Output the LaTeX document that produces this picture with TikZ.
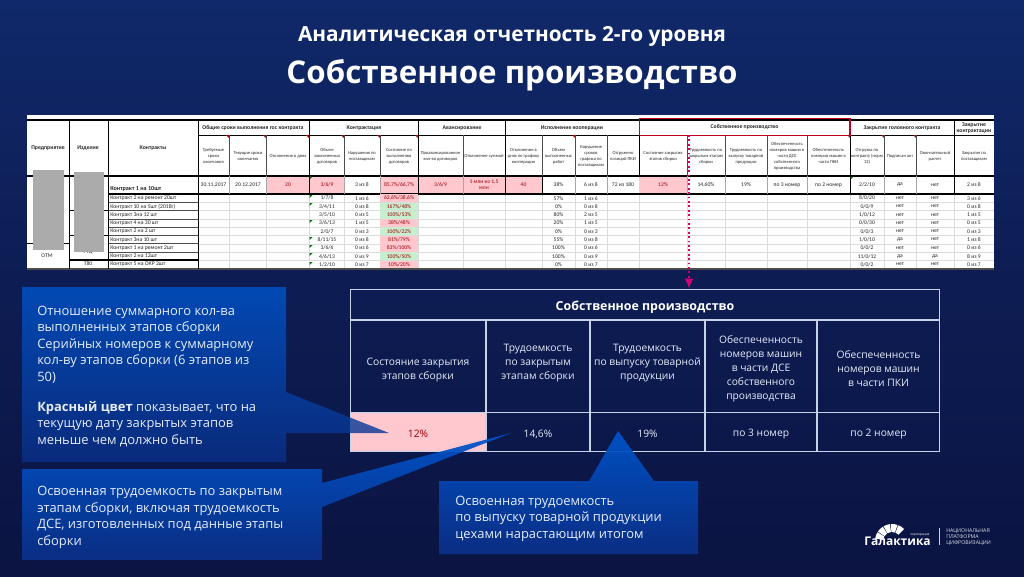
\documentclass[tikz,border=0pt]{standalone}
\usepackage{fontspec}
\setmainfont{Open Sans}
\newfontfamily\sheetfont{Carlito}
\usetikzlibrary{arrows.meta}
\usetikzlibrary{positioning}

\definecolor{bgtop}{HTML}{10296A}
\definecolor{bgmid}{HTML}{0D1C52}
\definecolor{bgbot}{HTML}{0B1442}
\definecolor{boxtop}{HTML}{0054CC}
\definecolor{boxbot}{HTML}{0A3088}
\definecolor{pinkc}{HTML}{FFC7CE}
\definecolor{greenc}{HTML}{C6EFCE}
\definecolor{redtxt}{HTML}{9C0006}
\definecolor{redbox}{HTML}{C00020}
\definecolor{dotc}{HTML}{D8006C}
\definecolor{tblc}{HTML}{C8D2E6}
\definecolor{txtc}{HTML}{E6ECF8}

\tikzset{
  sheethead/.style={font=\sheetfont\fontsize{3.4}{4.5}\selectfont, align=center, text=black!85, inner sep=0pt},
  sheetgroup/.style={font=\sheetfont\bfseries\fontsize{4.3}{4.8}\selectfont, align=center, text=black!85, inner sep=0pt},
  sheetcell/.style={font=\sheetfont\fontsize{4.2}{4.6}\selectfont, align=center, text=black!85, inner sep=0pt},
  sheetlabel/.style={font=\sheetfont\fontsize{4.3}{4.6}\selectfont, anchor=west, text=black!85, inner sep=0pt},
  callout/.style={top color=boxtop, bottom color=boxbot, opacity=.93},
  callouttext/.style={font=\fontsize{9.7}{12.4}\selectfont, text=txtc, anchor=north west, align=left, inner sep=0pt},
  tblline/.style={draw=tblc, line width=.9pt},
  tbltext/.style={font=\fontsize{7.7}{10.5}\selectfont, text=txtc, align=center, inner sep=0pt},
  dotline/.style={draw=dotc, line width=1.3pt, dotted, -{Latex[length=7.5pt,width=6.5pt]}}
}

\begin{document}
\begin{tikzpicture}[x=0.75pt,y=-0.75pt]
\useasboundingbox (0,0) rectangle (1024,576);
\shade[top color=bgtop, bottom color=bgmid] (0,0) rectangle (1024,300);
\shade[top color=bgmid, bottom color=bgbot] (0,300) rectangle (1024,576);

% titles
\node[font=\bfseries\fontsize{15.6}{17}\selectfont, text=white, inner sep=0pt] (title1) at (512,36) {Аналитическая отчетность 2-го уровня};
\node[font=\bfseries\fontsize{23.5}{26}\selectfont, text=white, inner sep=0pt] (title2) at (512,75) {Собственное производство};

% spreadsheet
\fill[white] (27,115) rectangle (994,269);
\fill[black!45] (27,269) rectangle (994,270);

\fill[pinkc] (266.5,176.5) rectangle (309,193.5);
\fill[pinkc] (309,176.5) rectangle (344,193.5);
\fill[pinkc] (380,176.5) rectangle (418,193.5);
\fill[pinkc] (418,176.5) rectangle (463,193.5);
\fill[pinkc] (463,176.5) rectangle (505,193.5);
\fill[pinkc] (505,176.5) rectangle (542,193.5);
\fill[pinkc] (639,176.5) rectangle (687,193.5);

% light grid of the lower rows
\foreach \xx in {229,266,309,344,380,418,463,505,542,575,607,639,687,725,767,807,850,884,916,954}
  \draw[black!14, line width=.5pt] (\xx,194) -- (\xx,269);
\foreach \r in {1,...,8}
  \draw[black!14, line width=.4pt] (198,194+8.3*\r) -- (994,194+8.3*\r);
\foreach \r in {1,...,8}
  \draw[black!70, line width=.5pt] (108,194+8.3*\r) -- (198,194+8.3*\r);

% heavy rules
\draw[black, line width=.9pt] (27,120) -- (994,120);
\draw[black, line width=.6pt] (198,135) -- (994,135);
\draw[black, line width=.9pt] (27,176) -- (994,176);
\draw[black, line width=.9pt] (108,194) -- (994,194);
\draw[black, line width=.5pt] (27,243) -- (69,243);
\draw[black, line width=.4pt] (69,210) -- (108,210);
\draw[black, line width=.4pt] (69,235) -- (108,235);
\draw[black, line width=.8pt] (69,260) -- (198,260);
\draw[black!70, line width=.8pt] (27,269) -- (994,269);
\foreach \xx in {69,108,198}
  \draw[black, line width=.6pt] (\xx,120) -- (\xx,269);
\foreach \xx in {309,418,505,639,850,954}
  \draw[black, line width=.6pt] (\xx,120) -- (\xx,176);
\foreach \xx in {229,266,344,380,463,542,575,607,687,725,767,807,884,916}
  \draw[black!70, line width=.5pt] (\xx,135) -- (\xx,176);
\foreach \xx in {229,266,344,380,463,575,607,687,725,767,807,884,916}
  \draw[black!35, line width=.5pt] (\xx,176) -- (\xx,194);
\foreach \xx in {309,418,505,542,850,954}
  \draw[black, line width=.6pt] (\xx,176) -- (\xx,194);

% corner marks of the sheet
\foreach \xx in {229,266,309,344,380,418,575,850,884,916}
  \fill[red!70!black] (\xx,135) -- (\xx-3,135) -- (\xx,138) -- cycle;
\foreach \yy in {176.5,195,203,220,237,245,253,262}
  \fill[green!45!black] (309.5,\yy) -- (312.5,\yy) -- (309.5,\yy+3) -- cycle;
\fill[green!45!black] (850.5,176.5) -- (853.5,176.5) -- (850.5,179.5) -- cycle;

% sheet groups
\node[sheetgroup] (predpr) at (48,148) {Предприятие};
\node[sheetgroup] (izdel) at (88,148) {Изделие};
\node[sheetgroup] (kontr) at (153,148) {Контракты};
\node[sheetgroup] (gr1) at (253,128) {Общие сроки выполнения гос контракта};
\node[sheetgroup] (gr2) at (364,128) {Контрактация};
\node[sheetgroup] (gr3) at (462,128) {Авансирование};
\node[sheetgroup] (gr4) at (572,128) {Исполнение кооперации};
\node[sheetgroup, draw=redbox, line width=1pt, minimum width=158pt, minimum height=12.5pt] (prodbox) at (744.5,127) {Собственное производство};
\node[sheetgroup] (gr6) at (902,128) {Закрытие головного контракта};
\node[sheetgroup] (gr7) at (974,128) {Закрытие\\контрактации};

% sheet column titles
\node[sheethead] (h1) at (213.5,156) {Требуемые\\сроки\\окончания};
\node[sheethead] (h2) at (248,156) {Текущие сроки\\окончания};
\node[sheethead] (h3) at (288,156) {Отклонение в днях};
\node[sheethead] (h4) at (327,156) {Объем\\заключенных\\договоров};
\node[sheethead] (h5) at (362,156) {Нарушения по\\поставщикам};
\node[sheethead] (h6) at (399,156) {Состояние по\\выполнению\\договоров};
\node[sheethead] (h7) at (440.5,156) {Проавансированное\\кол-во договоров};
\node[sheethead] (h8) at (484,156) {Отклонение суммой};
\node[sheethead] (h9) at (523.5,156) {Отклонение в\\днях по графику\\кооперации};
\node[sheethead] (h10) at (558.5,156) {Объем\\выполненных\\работ};
\node[sheethead] (h11) at (591,156) {Нарушение\\сроков\\графика по\\поставщикам};
\node[sheethead] (h12) at (623,156) {Отгружено\\позиций ПКИ};
\node[sheethead] (h13) at (663,156) {Состояние закрытия\\этапов сборки};
\node[sheethead] (h14) at (706,156) {Трудоемкость по\\закрытым этапам\\сборки};
\node[sheethead] (h15) at (746,156) {Трудоемкость по\\выпуску товарной\\продукции};
\node[sheethead] (h16) at (787,156) {Обеспеченность\\номеров машин в\\части ДСЕ\\собственного\\производства};
\node[sheethead] (h17) at (828.5,156) {Обеспеченность\\номеров машин в\\части ПКИ};
\node[sheethead] (h18) at (867,156) {Отгрузка по\\контракту (норм\\12)};
\node[sheethead] (h19) at (900,156) {Подписан акт};
\node[sheethead] (h20) at (935,156) {Окончательный\\расчет};
\node[sheethead] (h21) at (974,156) {Закрытие по\\поставщикам};

% main row
\node[sheetlabel, font=\sheetfont\bfseries\fontsize{4.6}{5}\selectfont] (main0) at (110,189) {Контракт 1 на 10шт};
\node[sheetcell] (main1) at (213.5,185) {30.11.2017};
\node[sheetcell] (main2) at (248,185) {20.12.2017};
\node[sheetcell, text=redtxt] (main3) at (288,185) {20};
\node[sheetcell, text=redtxt] (main4) at (327,185) {3/6/9};
\node[sheetcell] (main5) at (362,185) {3 из 8};
\node[sheetcell, text=redtxt] (main6) at (399,185) {85,7\%/66,7\%};
\node[sheetcell, text=redtxt] (main7) at (440.5,185) {3/6/9};
\node[sheetcell, text=redtxt] (main8) at (484,185) {1 млн из 1,5\\млн};
\node[sheetcell, text=redtxt] (main9) at (523.5,185) {40};
\node[sheetcell] (main10) at (558.5,185) {38\%};
\node[sheetcell] (main11) at (591,185) {6 из 8};
\node[sheetcell] (main12) at (623,185) {72 из 180};
\node[sheetcell, text=redtxt] (main13) at (663,185) {12\%};
\node[sheetcell] (main14) at (706,185) {14,60\%};
\node[sheetcell] (main15) at (746,185) {19\%};
\node[sheetcell] (main16) at (787,185) {по 3 номер};
\node[sheetcell] (main17) at (828.5,185) {по 2 номер};
\node[sheetcell] (main18) at (867,185) {2/2/10};
\node[sheetcell] (main19) at (900,185) {да};
\node[sheetcell] (main20) at (935,185) {нет};
\node[sheetcell] (main21) at (974,185) {2 из 8};

% lower rows
\foreach \r/\lbl/\ob/\nar/\sost/\cc/\vyp/\srok/\otg/\pod/\okon/\zak in {
  1/Контракт 2 на ремонт 20шт/{1/7/8}/1 из 6/{62,6\%/38,6\%}/pinkc/57\%/1 из 6/{8/0/20}/нет/нет/3 из 6,
  2/Контракт 10 на 5шт (2018г)/{3/4/11}/0 из 8/{167\%/48\%}/greenc/0\%/0 из 8/{0/0/9}/нет/нет/0 из 8,
  3/Контракт 3на 12 шт/{3/5/10}/0 из 5/{100\%/53\%}/greenc/80\%/2 из 5/{1/0/12}/нет/нет/1 из 5,
  4/Контракт 4 на 30 шт/{3/6/13}/1 из 5/{38\%/48\%}/pinkc/20\%/1 из 5/{0/0/30}/нет/нет/0 из 5,
  5/Контракт 2 на 2 шт/{2/0/7}/0 из 3/{100\%/22\%}/greenc/0\%/0 из 3/{0/0/3}/нет/нет/0 из 3,
  6/Контракт 3на 10 шт/{8/11/15}/0 из 8/{81\%/79\%}/pinkc/55\%/0 из 8/{1/0/10}/да/нет/1 из 8,
  7/Контракт 1 на ремонт 2шт/{3/6/6}/0 из 6/{83\%/100\%}/pinkc/100\%/0 из 6/{0/0/2}/нет/нет/0 из 6,
  8/Контракт 2 на 12шт/{4/6/13}/0 из 9/{100\%/50\%}/greenc/100\%/0 из 9/{11/0/12}/да/да/8 из 9,
  9/Контракт 5 на ОКР 2шт/{1/2/10}/0 из 7/{10\%/20\%}/pinkc/0\%/0 из 7/{0/0/2}/нет/нет/0 из 7}{
  \pgfmathsetmacro\yy{194+8.3*(\r-.5)}
  \node[sheetlabel] (lbl\r) at (110,\yy) {\lbl};
  \node[sheetcell] (ob\r) at (362,\yy) {\nar};
  \node[sheetcell] (dog\r) at (327,\yy) {\ob};
  \node[sheetcell, fill=\cc, text=redtxt, minimum width=28.2pt, minimum height=5.9pt] (sost\r) at (399,\yy) {\sost};
  \node[sheetcell] (vyp\r) at (558.5,\yy) {\vyp};
  \node[sheetcell] (srok\r) at (591,\yy) {\srok};
  \node[sheetcell] (otg\r) at (867,\yy) {\otg};
  \node[sheetcell] (pod\r) at (900,\yy) {\pod};
  \node[sheetcell] (okon\r) at (935,\yy) {\okon};
  \node[sheetcell] (zak\r) at (974,\yy) {\zak};
}

% first columns and the grey blocks
\node[sheetcell] (otm) at (47,256) {ОТМ};
\node[sheetcell] (ttc) at (88,252) {ТТЦ};
\node[sheetcell] (tvo) at (88,264) {Т80};
\fill[black!33] (33,170) rectangle (64,250);
\fill[black!33] (74,172) rectangle (104,252);

% table
\fill[pinkc] (351,412.5) rectangle (486,451.5);
\node[tblline, minimum width=441.5pt, minimum height=122pt, inner sep=0pt] (tblouter) at (645,370.5) {};
\draw[tblline] (351,320) -- (940,320);
\draw[tblline] (351,412.5) -- (940,412.5);
\draw[tblline] (486,320) -- (486,452);
\draw[tblline] (590,320) -- (590,452);
\draw[tblline] (705,320) -- (705,452);
\draw[tblline] (817,320) -- (817,452);

\node[tbltext, font=\bfseries\fontsize{9.3}{11}\selectfont, text=white] (tbltitle) at (645,307) {Собственное производство};
\node[tbltext] (col1) at (418,370) {Состояние закрытия\\этапов сборки};
\node[tbltext] (col2) at (538,363) {Трудоемкость\\по закрытым\\этапам сборки};
\node[tbltext] (col3) at (647.5,363) {Трудоемкость\\по выпуску товарной\\продукции};
\node[tbltext] (col4) at (761,369) {Обеспеченность\\номеров машин\\в части ДСЕ\\собственного\\производства};
\node[tbltext] (col5) at (878.5,369) {Обеспеченность\\номеров машин\\в части ПКИ};
\node[tbltext, text=redtxt] (val1) at (418,434) {12\%};
\node[tbltext] (val2) at (538,434) {14,6\%};
\node[tbltext] (val3) at (647.5,434) {19\%};
\node[tbltext] (val4) at (761,434) {по 3 номер};
\node[tbltext] (val5) at (878.5,434) {по 2 номер};

% arrow from the sheet to the table
\coordinate (arrowtop) at (689,135);
\draw[dotline] (arrowtop) -- (arrowtop |- tblouter.north);

% callouts
\coordinate (tip1) at (389,433);
\coordinate (tip2) at (511,433);
\coordinate (tip3) at (618,431);
\path[callout, opacity=.8] (22,287) -- (286,287) -- (286,392) -- (tip1) -- (286,433) -- (286,462) -- (22,462) -- cycle;
\path[callout] (22,469) -- (322,469) -- (322,483) -- (tip2) -- (322,507) -- (322,560) -- (22,560) -- cycle;
\path[callout] (439,481) -- (589,481) -- (tip3) -- (654,481) -- (698,481) -- (698,554) -- (439,554) -- cycle;

\node[callouttext] (note1) at (37,305.5) {Отношение суммарного кол-ва\\выполненных этапов сборки\\Серийных номеров к суммарному\\кол-ву этапов сборки (6 этапов из\\50)\\[10pt]\textbf{Красный цвет} показывает, что на\\текущую дату закрытых этапов\\меньше чем должно быть};
\node[callouttext] (note2) at (37,486) {Освоенная трудоемкость по закрытым\\этапам сборки, включая трудоемкость\\ДСЕ, изготовленных под данные этапы\\сборки};
\node[callouttext] (note3) at (455,495.5) {Освоенная трудоемкость\\по выпуску товарной продукции\\цехами нарастающим итогом};

% logo
\foreach \a in {-172,-146,-120,-94,-68}
  \fill[white, shift={(892,541)}] (\a:17) arc[start angle=\a, delta angle=23, radius=17] -- (\a+23:9) arc[start angle=\a+23, delta angle=-23, radius=9] -- cycle;
\node[font=\bfseries\fontsize{9}{10}\selectfont, text=white, inner sep=0pt] (logoname) at (897.5,541) {Галактика};
\node[font=\fontsize{2.4}{3}\selectfont, text=white, inner sep=0pt] (logocorp) at (920,535) {корпорация};
\draw[white!80!bgmid, line width=.6pt] (939,528) -- (939,545);
\node[font=\fontsize{3.9}{4.6}\selectfont, text=white!85!bgmid, align=left, anchor=west, inner sep=0pt] (logotext) at (946,537) {НАЦИОНАЛЬНАЯ\\ПЛАТФОРМА\\ЦИФРОВИЗАЦИИ};
\end{tikzpicture}
\end{document}
